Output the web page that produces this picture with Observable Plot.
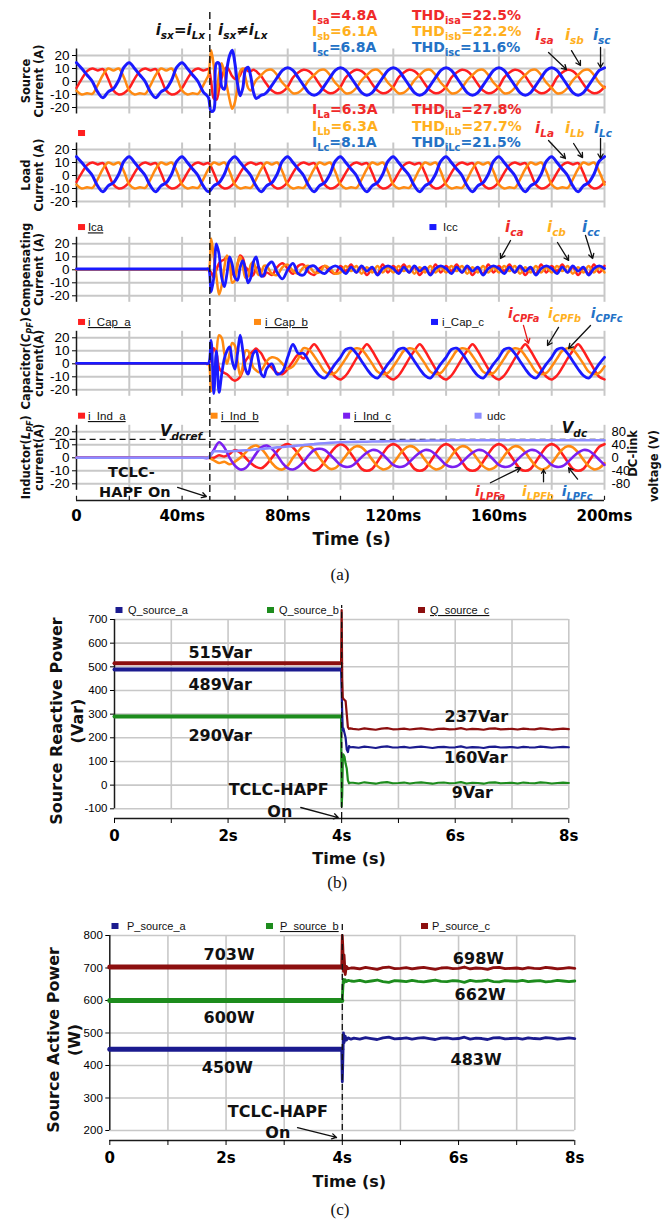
<!DOCTYPE html>
<html><head><meta charset="utf-8">
<script src="https://cdn.jsdelivr.net/npm/d3@7"></script>
<script src="https://cdn.jsdelivr.net/npm/@observablehq/plot@0.6"></script>
<style>
body{margin:0;background:#fff;}
#fig{position:relative;width:669px;height:1230px;overflow:hidden;background:#fff;}
.pane{position:absolute;left:0;}
</style></head><body><div id="fig"></div>
<script>
// ================= DATA =================
const tOn = 50.5;               // TCLC-HAPF switched on (ms)
const srcT = [...d3.range(0, 49, 2), ...d3.range(49, 73), ...d3.range(74, 201, 2)];
const loadT = d3.range(0, 201, 2);

// Source currents (A)
const isA = [-5,2,8,10,8.5,9.5,2,-7,-10,-9,-5,2,8,10,8.5,9.5,2,-7,-10,-9,-5,2,8,10,8.5,
 9,9.5,0,-13,-14,-6,3,9,11,8,4,2,2,5,9,10,8,8,9,8,6,4,1,-2,
 -7,-9,-8,
 -4,3,7,9,8,4,-2,-7,-9,-8, -4,3,7,9,8,4,-2,-7,-9,-8, -4,3,7,9,8,4,-2,-7,-9,-8,
 -4,3,7,9,8,4,-2,-7,-9,-8, -4,3,7,9,8,4,-2,-7,-9,-8, -4,3,7,9,8,4,-2,-7,-9,-8, -4];
const isB = [-7,-10,-9,-9.5,-3,5,10,8.5,10,3,-7,-10,-9,-9.5,-3,5,10,8.5,10,3,-7,-10,-9,-9.5,-3,
 1,5,24,12,-10,6,14,6,-4,-14,-21,-16,-4,8,10,3,-5,-7,-3,1,3,5,7,8.5,
 9,5,-1,
 -5,-9,-8.5,-5,1,5,8.5,9,5,-1, -5,-9,-8.5,-5,1,5,8.5,9,5,-1, -5,-9,-8.5,-5,1,5,8.5,9,5,-1,
 -5,-9,-8.5,-5,1,5,8.5,9,5,-1, -5,-9,-8.5,-5,1,5,8.5,9,5,-1, -5,-9,-8.5,-5,1,5,8.5,9,5,-1, -5];
const isC = [14.5,10,5,0,-8,-12.5,-8,-5.5,1,11,14.5,10,5,0,-8,-12.5,-8,-5.5,1,11,14.5,10,5,0,-8,
 -10,-12.5,-23,-22,14,14,-4,-6,10,20,24,14,-2,-11,-5,9,11,4,-8,-13,-12,-10.5,-10,-8.5,
 -3,3,8.5,
 10.5,8.5,3,-3,-8.5,-10.5,-8.5,-3,3,8.5, 10.5,8.5,3,-3,-8.5,-10.5,-8.5,-3,3,8.5, 10.5,8.5,3,-3,-8.5,-10.5,-8.5,-3,3,8.5,
 10.5,8.5,3,-3,-8.5,-10.5,-8.5,-3,3,8.5, 10.5,8.5,3,-3,-8.5,-10.5,-8.5,-3,3,8.5, 10.5,8.5,3,-3,-8.5,-10.5,-8.5,-3,3,8.5, 10.5];

// Load currents (A)
const iLA = [-5,2,8,10,8.5,9.5,2,-7,-10,-9, -5,2,8,10,8.5,9.5,2,-7,-10,-9, -5,2,8,10,8.5,9.5,2,-7,-10,-9,
 -5,2,8,10,8.5,9.5,2,-7,-10,-9, -5,2,8,10,8.5,9.5,2,-7,-10,-9, -5,2,8,10,8.5,9.5,2,-7,-10,-9,
 -5,2,8,10,8.5,9.5,2,-7,-10,-9, -5,2,8,10,8.5,9.5,2,-7,-10,-9, -5,2,8,10,8.5,9.5,2,-7,-10,-9,
 -5,2,8,10,8.5,9.5,2,-7,-10,-9, -5];
const iLB = [-7,-10,-9,-9.5,-3,5,10,8.5,10,3, -7,-10,-9,-9.5,-3,5,10,8.5,10,3, -7,-10,-9,-9.5,-3,5,10,8.5,10,3,
 -7,-10,-9,-9.5,-3,5,10,8.5,10,3, -7,-10,-9,-9.5,-3,5,10,8.5,10,3, -7,-10,-9,-9.5,-3,5,10,8.5,10,3,
 -7,-10,-9,-9.5,-3,5,10,8.5,10,3, -7,-10,-9,-9.5,-3,5,10,8.5,10,3, -7,-10,-9,-9.5,-3,5,10,8.5,10,3,
 -7,-10,-9,-9.5,-3,5,10,8.5,10,3, -7];
const iLC = [14.5,10,5,0,-8,-12.5,-8,-5.5,1,11, 14.5,10,5,0,-8,-12.5,-8,-5.5,1,11, 14.5,10,5,0,-8,-12.5,-8,-5.5,1,11,
 14.5,10,5,0,-8,-12.5,-8,-5.5,1,11, 14.5,10,5,0,-8,-12.5,-8,-5.5,1,11, 14.5,10,5,0,-8,-12.5,-8,-5.5,1,11,
 14.5,10,5,0,-8,-12.5,-8,-5.5,1,11, 14.5,10,5,0,-8,-12.5,-8,-5.5,1,11, 14.5,10,5,0,-8,-12.5,-8,-5.5,1,11,
 14.5,10,5,0,-8,-12.5,-8,-5.5,1,11, 14.5];

// Compensating currents (A)
const icA = [0,0,0,0,0,0,0,0,0,0,0,0,0,0,0,0,0,0,0,0,0,0,0,0,0,
 0,0,-2,-6,0,5,7,8,10,6,-2,-5,4,11,9,2,0,-5,-4,1,2,-3,-5,-2,
 -4,2,5,1,-3,3,4,-2,-4,1,3,-1,-3,
 3,-1,4,-2,2,-4,1,-3,4,-2, 3,-1,4,-2,2,-4,1,-3,4,-2, 3,-1,4,-2,2,-4,1,-3,4,-2,
 3,-1,4,-2,2,-4,1,-3,4,-2, 3,-1,4,-2,2,-4,1,-3,4,-2, 3];
const icB = [0,0,0,0,0,0,0,0,0,0,0,0,0,0,0,0,0,0,0,0,0,0,0,0,0,
 0,0,24,10,-5,-19,-12,2,11,6,-10,-8,5,10,3,-6,-5,4,6,0,-4,-2,3,3,
 -3,-4,2,4,-1,-3,2,3,-2,-2,3,1,-3,
 -2,3,-1,3,-3,2,-2,3,-2,2, -2,3,-1,3,-3,2,-2,3,-2,2, -2,3,-1,3,-3,2,-2,3,-2,2,
 -2,3,-1,3,-3,2,-2,3,-2,2, -2,3,-1,3,-3,2,-2,3,-2,2, -2];
const icC = [0.6,0.6,0.6,0.6,0.6,0.6,0.6,0.6,0.6,0.6,0.6,0.6,0.6,0.6,0.6,0.6,0.6,0.6,0.6,0.6,0.6,0.6,0.6,0.6,0.6,
 0.6,0.6,-17,-6,20,12,-6,-13,-3,10,4,-6,-8,2,7,0,-10,-6,6,10,2,-5,-4,2,
 6,-2,-7,0,5,-3,-4,2,3,-1,-3,1,3,
 1,-3,2,-2,3,-1,2,-4,1,3, 1,-3,2,-2,3,-1,2,-4,1,3, 1,-3,2,-2,3,-1,2,-4,1,3,
 1,-3,2,-2,3,-1,2,-4,1,3, 1,-3,2,-2,3,-1,2,-4,1,3, 1];

// Capacitor (C_PF) currents (A)
const iCapA = [0,0,0,0,0,0,0,0,0,0,0,0,0,0,0,0,0,0,0,0,0,0,0,0,0,
 0,0,5,12,8,-3,-6,-7,-8,-10,-12,-13,-12,-10,-5,2,5,8,10,11.7,10,8,4,1,
 -3,-7,-8,-4,2,7,
 4,10,15,10,3,-4,-10,
 -12,-9,-3,4,10,15,10,3,-4,-10, -12,-9,-3,4,10,15,10,3,-4,-10, -12,-9,-3,4,10,15,10,3,-4,-10,
 -12,-9,-3,4,10,15,10,3,-4,-10, -12,-9,-3,4,10,15,10,3,-4,-10, -12];
const iCapB = [0,0,0,0,0,0,0,0,0,0,0,0,0,0,0,0,0,0,0,0,0,0,0,0,0,
 0,0,-21,-10,8,22,20,8,0,8,16,14,2,-9,-2,10,10,3,-3,-5,-6.5,-5,-2,2,
 5,4,0,-4,-2,4,
 12,11,6,0,-6,-8,-7,
 -2,4,10,12,11,6,0,-6,-8,-7, -2,4,10,12,11,6,0,-6,-8,-7, -2,4,10,12,11,6,0,-6,-8,-7,
 -2,4,10,12,11,6,0,-6,-8,-7, -2,4,10,12,11,6,0,-6,-8,-7, -2];
const iCapC = [0.3,0.3,0.3,0.3,0.3,0.3,0.3,0.3,0.3,0.3,0.3,0.3,0.3,0.3,0.3,0.3,0.3,0.3,0.3,0.3,0.3,0.3,0.3,0.3,0.3,
 0.3,0.3,18,-23,10,-22,-8,4,10,13,2,-4,8,22,10,-4,-8,0,8,10,2,-8,-10,-4,
 0,-8,-6,5,15,8,
 8,2,-4,-9,-11,-6,0,
 5,11,12,8,2,-4,-9,-11,-6,0, 5,11,12,8,2,-4,-9,-11,-6,0, 5,11,12,8,2,-4,-9,-11,-6,0,
 5,11,12,8,2,-4,-9,-11,-6,0, 5,11,12,8,2,-4,-9,-11,-6,0, 5];

// Inductor (L_PF) currents (A) and DC-link voltage (V)
const iIndA = [0,0,0,0,0,0,0,0,0,0,0,0,0,0,0,0,0,0,0,0,0,0,0,0,0,0,
 0,2,1,3,6,4,0,-4,-7,-8,-5,0,5,9,10.5,8,3,-3,-8,-10,-8,-3,3,8,10.5,
 8.5,3,-3,-8.5,-10,-8.5,-3,3,8.5,10.5, 8.5,3,-3,-8.5,-10,-8.5,-3,3,8.5,10.5, 8.5,3,-3,-8.5,-10,-8.5,-3,3,8.5,10.5,
 8.5,3,-3,-8.5,-10,-8.5,-3,3,8.5,10.5, 8.5,3,-3,-8.5,-10,-8.5,-3,3,8.5,10.5];
const iIndB = [0,0,0,0,0,0,0,0,0,0,0,0,0,0,0,0,0,0,0,0,0,0,0,0,0,0,
 -2,-4,-3,-5,-3,0,4,8,9.5,7,2,-4,-8,-9,-6,0,5,9,9,6,0,-5,-8.5,-8,-4,
 1.4,6.4,8.9,8,4.1,-1.4,-6.4,-8.9,-8,-4.1, 1.4,6.4,8.9,8,4.1,-1.4,-6.4,-8.9,-8,-4.1, 1.4,6.4,8.9,8,4.1,-1.4,-6.4,-8.9,-8,-4.1,
 1.4,6.4,8.9,8,4.1,-1.4,-6.4,-8.9,-8,-4.1, 1.4,6.4,8.9,8,4.1,-1.4,-6.4,-8.9,-8,-4.1];
const iIndC = [0,0,0,0,0,0,0,0,0,0,0,0,0,0,0,0,0,0,0,0,0,0,0,0,0,0,
 6,12,8,0,-6,-9,-8,-3,3,8,9.5,7,2,-4,-8,-9,-7,-3,2,6,7,6,2.5,-1.5,-5.5,
 -7,-6.5,-3.5,0.5,4,6,5.5,2.5,-1.5,-5.5, -7,-6.5,-3.5,0.5,4,6,5.5,2.5,-1.5,-5.5, -7,-6.5,-3.5,0.5,4,6,5.5,2.5,-1.5,-5.5,
 -7,-6.5,-3.5,0.5,4,6,5.5,2.5,-1.5,-5.5, -7,-6.5,-3.5,0.5,4,6,5.5,2.5,-1.5,-5.5];
const udc = [0,0,0,0,0,0,0,0,0,0,0,0,0,0,0,0,0,0,0,0,0,0,0,0,0,0,
 20,20,19,20,21,22,23,24,26,27,29,30,32,33,35,36,38,39,41,42,44,45,46,47,48,
 48.3,48.6,49,49.3,49.6,50,50.3,50.6,51,51.3,51.6,52,52.2,52.4,52.6,52.8,53,53.2,53.4,53.6,
 53.8,54,54,54.2,54,53.8,54,54.2,54,54,54.2,54,53.8,54,54,54.2,54,54,53.8,54,54.2,54,54,54,53.8,54,54.2,54,54,54];
const vdcRef = 57;   // V
const VPA = 4;       // DC-link volts per ampere on the shared axis

const aYTicks = [-20, -10, 0, 10, 20];
const aXTicks = [0, 20, 40, 60, 80, 100, 120, 140, 160, 180, 200];
const aXLabels = [0, 40, 80, 120, 160, 200];
const dcTicks = [20, 10, 0, -10, -20];

// Panel (b): source reactive power (Var)
const qT = [0,3.99,4.0,4.01,4.02,4.03,4.05,4.07,4.09,4.11,4.13,4.15,
 4.2,4.3,4.4,4.5,4.6,4.7,4.8,4.9,5.0,5.1,5.2,5.3,5.4,5.5,5.6,5.7,5.8,5.9,6.0,6.1,6.2,6.3,6.4,6.5,6.6,6.7,6.8,6.9,7.0,7.1,7.2,7.3,7.4,7.5,7.6,7.7,7.8,7.9,8.0];
const qA = [489,489,400,300,230,240,220,200,150,140,165,160,
 161,158,163,160,157,162,164,159,160,162,158,161,163,160,157,161,162,159,160,164,158,161,160,157,162,163,159,160,161,158,162,160,159,163,161,158,160,162,160];
const qB = [290,290,-90,-40,100,130,120,90,70,20,8,10,
 10,7,12,9,6,11,13,8,9,11,7,10,12,9,6,10,11,8,9,13,7,10,9,6,11,12,8,9,10,7,11,9,8,12,10,7,9,11,9];
const qC = [515,515,740,450,370,365,360,355,300,245,238,240,
 238,235,240,237,234,239,241,236,237,239,235,238,240,237,234,238,239,236,237,241,235,238,237,234,239,240,236,237,238,235,239,237,236,240,238,235,237,239,237];
const qYTicks = [-100, 0, 100, 200, 300, 400, 500, 600, 700];

// Panel (c): source active power (W)
const pT = [0,3.99,4.0,4.01,4.02,4.03,4.05,4.07,4.1,4.15,
 4.2,4.3,4.4,4.5,4.6,4.7,4.8,4.9,5.0,5.1,5.2,5.3,5.4,5.5,5.6,5.7,5.8,5.9,6.0,6.1,6.2,6.3,6.4,6.5,6.6,6.7,6.8,6.9,7.0,7.1,7.2,7.3,7.4,7.5,7.6,7.7,7.8,7.9,8.0];
const pA = [450,450,350,420,500,470,490,478,485,481,
 484,481,486,483,480,485,487,482,483,485,481,484,486,483,480,484,485,482,483,487,481,484,483,480,485,486,482,483,484,481,485,483,482,486,484,481,483,485,483];
const pB = [600,600,605,640,665,655,664,658,662,660,
 659,662,657,660,663,658,656,661,660,658,662,659,657,660,663,659,658,661,660,656,662,659,660,663,658,657,661,660,659,662,658,660,661,657,659,662,660,658,660];
const pC = [703,703,800,760,690,740,680,705,698,700,
 700,697,702,699,696,701,703,698,699,701,697,700,702,699,696,700,701,698,699,703,697,700,699,696,701,702,698,699,700,697,701,699,698,702,700,697,699,701,699];
const pYTicks = [200, 300, 400, 500, 600, 700, 800];
const bcXTicks = [0, 1, 2, 3, 4, 5, 6, 7, 8];
const tOnBC = 4;     // s
const tSplit = 3.99; // last steady sample before switching

// ================= DRAWING =================
const W = 669;
const SANS = "'Liberation Sans', Arial, sans-serif";
const BOLDF = "'DejaVu Sans', Verdana, sans-serif";
const SERIF = "'Liberation Serif', 'Times New Roman', serif";
const GRID = "#c8c8c8";
const RED = "#ff1f1f", ORG = "#ff8a12", BLU = "#1a1aff", PUR = "#7a1ff0", UDCC = "#8c8cff";
const TR = "#f02a2a", TG = "#ffb01e", TB = "#2472c6";
const QAc = "#1b1b8f", QBc = "#1d8c1d", QCc = "#8c0f0f";
const fig = document.getElementById("fig");

function place(node, top) {
  const d = document.createElement("div");
  d.className = "pane"; d.style.top = top + "px";
  d.appendChild(node); fig.appendChild(d); return node;
}
const pts = (T, V) => T.map((t, i) => ({t, v: V[i]}));
const sub = s => ({s, sub: true});

function rich(svg, x, y, parts, o = {}) {
  const size = o.size || 14;
  const el = d3.select(svg).append("text")
    .attr("x", x).attr("y", y)
    .attr("text-anchor", o.anchor || "start")
    .attr("fill", o.fill || "#111")
    .style("font-family", o.family || BOLDF)
    .style("font-size", size + "px")
    .style("font-weight", o.weight || "bold")
    .style("font-style", o.italic ? "italic" : "normal");
  if (o.underline) el.style("text-decoration", "underline");
  if (o.rotate) el.attr("transform", `rotate(${o.rotate} ${x} ${y})`);
  let shift = 0;
  for (const p of parts) {
    const q = typeof p === "string" ? {s: p} : p;
    const target = q.sub ? size * 0.28 : 0;
    const ts = el.append("tspan").text(q.s);
    if (target !== shift) ts.attr("dy", target - shift);
    shift = target;
    if (q.sub) ts.style("font-size", (size * (o.subScale || 0.7)) + "px");
    if (q.it) ts.style("font-style", "italic");
  }
  return el;
}
function square(svg, x, y, color) {
  d3.select(svg).append("rect").attr("x", x - 3.5).attr("y", y - 3).attr("width", 7).attr("height", 6).attr("fill", color);
}
function arrowMarks(list) {
  return list.map(a => Plot.arrow([a], {x1: "x1", y1: "y1", x2: "x2", y2: "y2", stroke: a.c || "#111", strokeWidth: 1.3, headLength: 6}));
}

// ---------- panel (a) subplots ----------
function subplotA(cfg) {
  const yMin = cfg.yMin ?? -25;
  const marks = [
    Plot.ruleY(aYTicks, {x1: 0, x2: 200, stroke: GRID, strokeWidth: 2}),
    Plot.ruleX(aXTicks.slice(1), {y1: -25, y2: 25, stroke: GRID, strokeWidth: 2}),
    Plot.ruleX([0], {y1: -25, y2: 25, stroke: "#1a1a1a", strokeWidth: 1.5}),
    Plot.axisY({ticks: aYTicks, tickSize: 4, tickPadding: 3, fontSize: 13.5, fontFamily: SANS, tickFormat: d => String(d), label: null}),
    ...(cfg.pre || []),
    ...cfg.lines.map(l => Plot.line(pts(l.T, l.V), {x: "t", y: "v", stroke: l.color, strokeWidth: l.w || 2.6, curve: l.curve || "catmull-rom"})),
    ...arrowMarks(cfg.arrows || []),
    ...(cfg.post || [])
  ];
  const p = Plot.plot({
    width: W, height: cfg.height, marginLeft: 76, marginRight: 65, marginTop: cfg.mt, marginBottom: cfg.mb,
    x: {domain: [0, 200], axis: null, label: null}, y: {domain: [yMin, 25], axis: null, label: null},
    style: {overflow: "visible", background: "transparent", fontFamily: SANS, fontSize: "13px"},
    marks
  });
  place(p, cfg.top);
  const sx = p.scale("x"), sy = p.scale("y");
  const X = t => sx.apply(t), Y = v => sy.apply(v);
  for (const n of cfg.notes || []) rich(p, X(n.t), Y(n.v), n.parts, n.o);
  for (const s of cfg.squares || []) square(p, X(s.t), Y(s.v), s.c);
  for (const l of cfg.legend || []) rich(p, X(l.t), Y(l.v), [l.s], {family: SANS, weight: "normal", size: 11.5, underline: l.u});
  const [l1, l2] = cfg.ylab;
  rich(p, X(-17.4), Y(0), l1, {anchor: "middle", rotate: -90, size: 11.5});
  rich(p, X(-12.4), Y(0), l2, {anchor: "middle", rotate: -90, size: 11.5});
  return p;
}

const italicLbl = (base, s, fill, t, v, size = 15) => ({t, v, parts: [base, sub(s)], o: {fill, italic: true, size}});

// (a1) source current
subplotA({
  top: 0, height: 128, mt: 48.5, mb: 14.5,
  lines: [{T: srcT, V: isA, color: RED, w: 2.5}, {T: srcT, V: isB, color: ORG, w: 2.5}, {T: srcT, V: isC, color: BLU, w: 3}],
  notes: [
    {t: 48.9, v: 35.4, parts: ["i", sub("sx"), "=", "i", sub("Lx")], o: {anchor: "end", italic: true, size: 15}},
    {t: 53.8, v: 35.4, parts: ["i", sub("sx"), "\u2260", "i", sub("Lx")], o: {italic: true, size: 15}},
    {t: 89.4, v: 46.9, parts: ["I", sub("sa"), "=4.8A"], o: {fill: TR, size: 14}},
    {t: 89.4, v: 34.6, parts: ["I", sub("sb"), "=6.1A"], o: {fill: TG, size: 14}},
    {t: 89.4, v: 22.3, parts: ["I", sub("sc"), "=6.8A"], o: {fill: TB, size: 14}},
    {t: 127.3, v: 46.9, parts: ["THD", sub("isa"), "=22.5%"], o: {fill: TR, size: 14}},
    {t: 127.3, v: 34.6, parts: ["THD", sub("isb"), "=22.2%"], o: {fill: TG, size: 14}},
    {t: 127.3, v: 22.3, parts: ["THD", sub("isc"), "=11.6%"], o: {fill: TB, size: 14}},
    italicLbl("i", "sa", TR, 173.9, 31.5), italicLbl("i", "sb", TG, 185.2, 31.5), italicLbl("i", "sc", TB, 195.8, 31.5)
  ],
  arrows: [{x1: 178.8, y1: 22.3, x2: 185.6, y2: 9.2}, {x1: 187.5, y1: 23.8, x2: 190.9, y2: 12.3}, {x1: 198.5, y1: 26.2, x2: 198.5, y2: 10.8}],
  ylab: [["Source"], ["Current (A)"]]
});

// (a2) load current
subplotA({
  top: 128, height: 94, mt: 14.5, mb: 14.5,
  lines: [{T: loadT, V: iLA, color: RED, w: 2.5}, {T: loadT, V: iLB, color: ORG, w: 2.5}, {T: loadT, V: iLC, color: BLU, w: 3}],
  notes: [
    {t: 89.4, v: 46.9, parts: ["I", sub("La"), "=6.3A"], o: {fill: TR, size: 14}},
    {t: 89.4, v: 33.8, parts: ["I", sub("Lb"), "=6.3A"], o: {fill: TG, size: 14}},
    {t: 89.4, v: 21.5, parts: ["I", sub("Lc"), "=8.1A"], o: {fill: TB, size: 14}},
    {t: 127.3, v: 46.9, parts: ["THD", sub("iLa"), "=27.8%"], o: {fill: TR, size: 14}},
    {t: 127.3, v: 33.8, parts: ["THD", sub("iLb"), "=27.7%"], o: {fill: TG, size: 14}},
    {t: 127.3, v: 21.5, parts: ["THD", sub("iLc"), "=21.5%"], o: {fill: TB, size: 14}},
    italicLbl("i", "La", TR, 173.9, 32.3), italicLbl("i", "Lb", TG, 185.2, 32.3), italicLbl("i", "Lc", TB, 196.2, 32.3)
  ],
  arrows: [{x1: 178.8, y1: 26.9, x2: 185.2, y2: 13.1}, {x1: 188.3, y1: 24.6, x2: 191.7, y2: 13.8}, {x1: 198.5, y1: 28.5, x2: 198.5, y2: 13.1}],
  squares: [{t: 2.1, v: 32.3, c: RED}],
  ylab: [["Load"], ["Current (A)"]]
});

// (a3) compensating current
subplotA({
  top: 222, height: 94, mt: 14.8, mb: 14.2,
  lines: [{T: srcT, V: icA, color: RED, w: 2.5}, {T: srcT, V: icB, color: ORG, w: 2.5}, {T: srcT, V: icC, color: BLU, w: 2.8}],
  notes: [italicLbl("i", "ca", TR, 162.5, 28.7), italicLbl("i", "cb", TG, 178.4, 28.7), italicLbl("i", "cc", TB, 191.7, 28.7)],
  arrows: [{x1: 164.4, y1: 22.5, x2: 160.6, y2: 8.7}, {x1: 182.2, y1: 21, x2: 186.4, y2: 7.2}, {x1: 192.8, y1: 26.4, x2: 195.5, y2: 8.7}],
  squares: [{t: 2.1, v: 32.5, c: RED}, {t: 135.2, v: 32.5, c: BLU}],
  legend: [{t: 4.5, v: 29.2, s: "Ica", u: true}, {t: 139, v: 29.2, s: "Icc"}],
  ylab: [["Compensating"], ["Current (A)"]]
});

// (a4) capacitor current
subplotA({
  top: 316, height: 94, mt: 14.8, mb: 14.2,
  lines: [{T: srcT, V: iCapA, color: RED, w: 2.5}, {T: srcT, V: iCapB, color: ORG, w: 2.5}, {T: srcT, V: iCapC, color: BLU, w: 2.8}],
  notes: [italicLbl("i", "CPFa", TR, 163.6, 34.8, 14), italicLbl("i", "CPFb", TG, 178.8, 34.8, 14), italicLbl("i", "CPFc", TB, 195.0, 34.8, 14)],
  arrows: [{x1: 169.3, y1: 29.5, x2: 171.2, y2: 15.6, c: "#e81818"}, {x1: 182.6, y1: 28, x2: 178.4, y2: 14.1}, {x1: 194.7, y1: 29.5, x2: 186.4, y2: 11.8}],
  squares: [{t: 2.1, v: 31.8, c: RED}, {t: 68.75, v: 31.8, c: ORG}, {t: 135.8, v: 31.8, c: BLU}],
  legend: [{t: 4.5, v: 28.7, s: "i_Cap_a", u: true}, {t: 71.6, v: 28.7, s: "i_Cap_b", u: true}, {t: 138.6, v: 28.7, s: "i_Cap_c"}],
  ylab: [["Capacitor(", {s: "C", it: true}, {s: "PF", sub: true, it: true}, ")"], ["current(A)"]]
});

// (a5) inductor current + DC-link voltage
const yBotA = -32.8;
subplotA({
  top: 410, height: 180, mt: 14.8, mb: 90.06, yMin: yBotA,
  pre: [
    Plot.ruleY([vdcRef / VPA], {x1: -10, x2: 200, stroke: "#111", strokeWidth: 1.3, strokeDasharray: "6,4"}),
    Plot.ruleY([yBotA], {x1: 0, x2: 200, stroke: "#1a1a1a", strokeWidth: 1.5}),
    Plot.ruleX(aXTicks, {y1: yBotA, y2: yBotA + 3.2, stroke: "#1a1a1a", strokeWidth: 1.2}),
    Plot.axisX({ticks: aXLabels, tickFormat: d => d === 0 ? "0" : d + "ms", tickSize: 0, tickPadding: 10, fontSize: 15, fontWeight: "bold", fontFamily: BOLDF, label: null}),
    Plot.axisY({anchor: "right", ticks: dcTicks, tickFormat: d => String(d * VPA), tickSize: 0, tickPadding: 7, fontSize: 13, fontFamily: SANS, label: null})
  ],
  lines: [{T: loadT, V: iIndA, color: RED, w: 2.6}, {T: loadT, V: iIndB, color: ORG, w: 2.6}, {T: loadT, V: iIndC, color: PUR, w: 2.6},
          {T: loadT, V: udc.map(v => v / VPA), color: UDCC, w: 2.6, curve: "linear"}],
  notes: [
    {t: 31.8, v: 16.4, parts: ["V", sub("dcref")], o: {italic: true, size: 15}},
    {t: 184, v: 18.7, parts: ["V", sub("dc")], o: {italic: true, size: 15}},
    {t: 21, v: -15.2, parts: ["TCLC-"], o: {anchor: "middle", size: 14.5}},
    {t: 22.3, v: -30.5, parts: ["HAPF On"], o: {anchor: "middle", size: 14.5}},
    italicLbl("i", "LPFa", TR, 151.1, -29.8, 14), italicLbl("i", "LPFb", TG, 168.9, -29.8, 14), italicLbl("i", "LPFc", TB, 184, -29.8, 14),
    {t: 212.5, v: 21, parts: ["DC-link"], o: {anchor: "end", rotate: -90, size: 11.5}},
    {t: 220.5, v: 21, parts: ["voltage (V)"], o: {anchor: "end", rotate: -90, size: 11.5}},
    {t: 104.4, v: -67.5, parts: ["Time (s)"], o: {anchor: "middle", size: 17}},
    {t: 100, v: -94.4, parts: ["(a)"], o: {anchor: "middle", size: 17, weight: "normal", family: SERIF}}
  ],
  arrows: [{x1: 38.3, y1: -22.8, x2: 49.2, y2: -29.8},
           {x1: 156.8, y1: -19.2, x2: 168.2, y2: -7.7}, {x1: 176.9, y1: -18.5, x2: 176.9, y2: -9.2}, {x1: 189.8, y1: -16.4, x2: 186.4, y2: -7.7}],
  squares: [{t: 2.1, v: 32, c: RED}, {t: 52.3, v: 32, c: ORG}, {t: 102.5, v: 32, c: PUR}, {t: 152.3, v: 32, c: UDCC}],
  legend: [{t: 4.5, v: 28.7, s: "i_Ind_a", u: true}, {t: 54.9, v: 28.7, s: "i_Ind_b", u: true}, {t: 105.3, v: 28.7, s: "i_Ind_c", u: true}, {t: 155.7, v: 28.7, s: "udc"}],
  ylab: [["Inductor(", {s: "L", it: true}, {s: "PF", sub: true, it: true}, ")"], ["current(A)"]]
});

// dashed switching line across panel (a)
place(Plot.plot({
  width: W, height: 500, marginLeft: 76, marginRight: 65, marginTop: 12, marginBottom: 0,
  x: {domain: [0, 200], axis: null}, y: {domain: [0, 1], axis: null},
  style: {overflow: "visible", background: "transparent"},
  marks: [Plot.ruleX([tOn], {stroke: "#111", strokeWidth: 1.4, strokeDasharray: "7,4"})]
}), 0);

// ---------- panels (b), (c) ----------
function panelPQ(cfg) {
  const [y0, y1] = cfg.gridY;
  const marks = [
    Plot.ruleY(cfg.yTicks, {x1: 0, x2: 8, stroke: GRID, strokeWidth: 1.6}),
    Plot.ruleX(bcXTicks.slice(1), {y1: y0, y2: y1, stroke: GRID, strokeWidth: 1.6}),
    Plot.ruleX([0], {y1: y0, y2: y1, stroke: "#1a1a1a", strokeWidth: 1.5}),
    Plot.ruleY([cfg.yDomain[0]], {x1: 0, x2: 8, stroke: "#1a1a1a", strokeWidth: 1.5}),
    Plot.axisY({ticks: cfg.yTicks, tickSize: 4, tickPadding: 3, fontSize: 11.5, fontFamily: SANS, tickFormat: d => String(d), label: null}),
    Plot.axisX({ticks: bcXTicks, tickFormat: d => d % 2 ? "" : (d === 0 ? "0" : d + "s"), tickSize: 5, tickPadding: 7, fontSize: 15, fontWeight: "bold", fontFamily: BOLDF, label: null})
  ];
  for (const s of cfg.series) {
    marks.push(Plot.line(pts(cfg.T, s.V).filter(d => d.t <= tSplit), {x: "t", y: "v", stroke: s.color, strokeWidth: cfg.wPre}));
  }
  for (const s of cfg.series) {
    marks.push(Plot.line(pts(cfg.T, s.V).filter(d => d.t >= tSplit), {x: "t", y: "v", stroke: s.color, strokeWidth: cfg.wPost}));
  }
  marks.push(Plot.ruleX([tOnBC], {y1: cfg.yDomain[0], y2: cfg.dashTop, stroke: "#111", strokeWidth: 1.3, strokeDasharray: "6,4"}));
  marks.push(...arrowMarks([cfg.arrow]));
  const p = Plot.plot({
    width: W, height: cfg.height, marginLeft: cfg.ml, marginRight: cfg.mr, marginTop: cfg.mt, marginBottom: cfg.mb,
    x: {domain: [0, 8], axis: null, label: null}, y: {domain: cfg.yDomain, axis: null, label: null},
    style: {overflow: "visible", background: "transparent", fontFamily: SANS},
    marks
  });
  place(p, cfg.top);
  const sx = p.scale("x"), sy = p.scale("y");
  const X = t => sx.apply(t), Y = v => sy.apply(v);
  for (const s of cfg.squares) square(p, X(s.t), Y(s.v), s.c);
  for (const l of cfg.legend) rich(p, X(l.t), Y(l.v), [l.s], {family: SANS, weight: "normal", size: 11, underline: l.u});
  for (const n of cfg.notes) rich(p, X(n.t), Y(n.v), [n.s], Object.assign({anchor: "middle", size: 16}, n.o || {}));
  return p;
}

panelPQ({
  top: 590, height: 310, ml: 114, mr: 100.7, mt: 29, mb: 82,
  yDomain: [-141, 700], gridY: [-100, 700], yTicks: qYTicks, dashTop: 759,
  T: qT, wPre: 4, wPost: 2.2,
  series: [{V: qB, color: QBc}, {V: qA, color: QAc}, {V: qC, color: QCc}],
  arrow: {x1: 3.28, y1: -94.5, x2: 3.94, y2: -136.8},
  squares: [{t: 0.088, v: 738, c: QAc}, {t: 2.756, v: 738, c: QBc}, {t: 5.415, v: 738, c: QCc}],
  legend: [{t: 0.246, v: 721, s: "Q_source_a"}, {t: 2.905, v: 721, s: "Q_source_b"}, {t: 5.565, v: 721, s: "Q_source_c", u: true}],
  notes: [
    {t: 1.87, v: 536, s: "515Var"}, {t: 1.87, v: 400, s: "489Var"}, {t: 1.87, v: 184, s: "290Var"},
    {t: 6.38, v: 266, s: "237Var"}, {t: 6.37, v: 91, s: "160Var"}, {t: 6.31, v: -56, s: "9Var"},
    {t: 2.9, v: -44, s: "TCLC-HAPF"}, {t: 2.92, v: -136, s: "On"},
    {t: -0.916, v: 269, s: "Source Reactive Power", o: {rotate: -90, size: 16}},
    {t: -0.546, v: 269, s: "(Var)", o: {rotate: -90, size: 16}},
    {t: 4.14, v: -335, s: "Time (s)", o: {size: 16}},
    {t: 3.93, v: -437, s: "(b)", o: {size: 17, weight: "normal", family: SERIF}}
  ]
});

panelPQ({
  top: 900, height: 330, ml: 109.3, mr: 94.7, mt: 35, mb: 90,
  yDomain: [169.2, 800], gridY: [200, 800], yTicks: pYTicks, dashTop: 846,
  T: pT, wPre: 5, wPost: 2.8,
  series: [{V: pB, color: QBc}, {V: pA, color: QAc}, {V: pC, color: QCc}],
  arrow: {x1: 3.23, y1: 209, x2: 3.9, y2: 178.5},
  squares: [{t: 0.098, v: 827.7, c: QAc}, {t: 2.756, v: 827.7, c: QBc}, {t: 5.423, v: 827.7, c: QCc}],
  legend: [{t: 0.305, v: 815.4, s: "P_source_a"}, {t: 2.936, v: 815.4, s: "P_source_b", u: true}, {t: 5.552, v: 815.4, s: "P_source_c"}],
  notes: [
    {t: 2.06, v: 723, s: "703W"}, {t: 2.06, v: 529, s: "600W"}, {t: 2.03, v: 375, s: "450W"},
    {t: 6.35, v: 711, s: "698W"}, {t: 6.38, v: 600, s: "662W"}, {t: 6.31, v: 400, s: "483W"},
    {t: 2.9, v: 240, s: "TCLC-HAPF"}, {t: 2.9, v: 175, s: "On"},
    {t: -0.865, v: 477, s: "Source Active Power", o: {rotate: -90, size: 16}},
    {t: -0.504, v: 477, s: "(W)", o: {rotate: -90, size: 16}},
    {t: 4.13, v: 24.6, s: "Time (s)", o: {size: 16}},
    {t: 3.97, v: -61.5, s: "(c)", o: {size: 17, weight: "normal", family: SERIF}}
  ]
});
</script></body></html>
